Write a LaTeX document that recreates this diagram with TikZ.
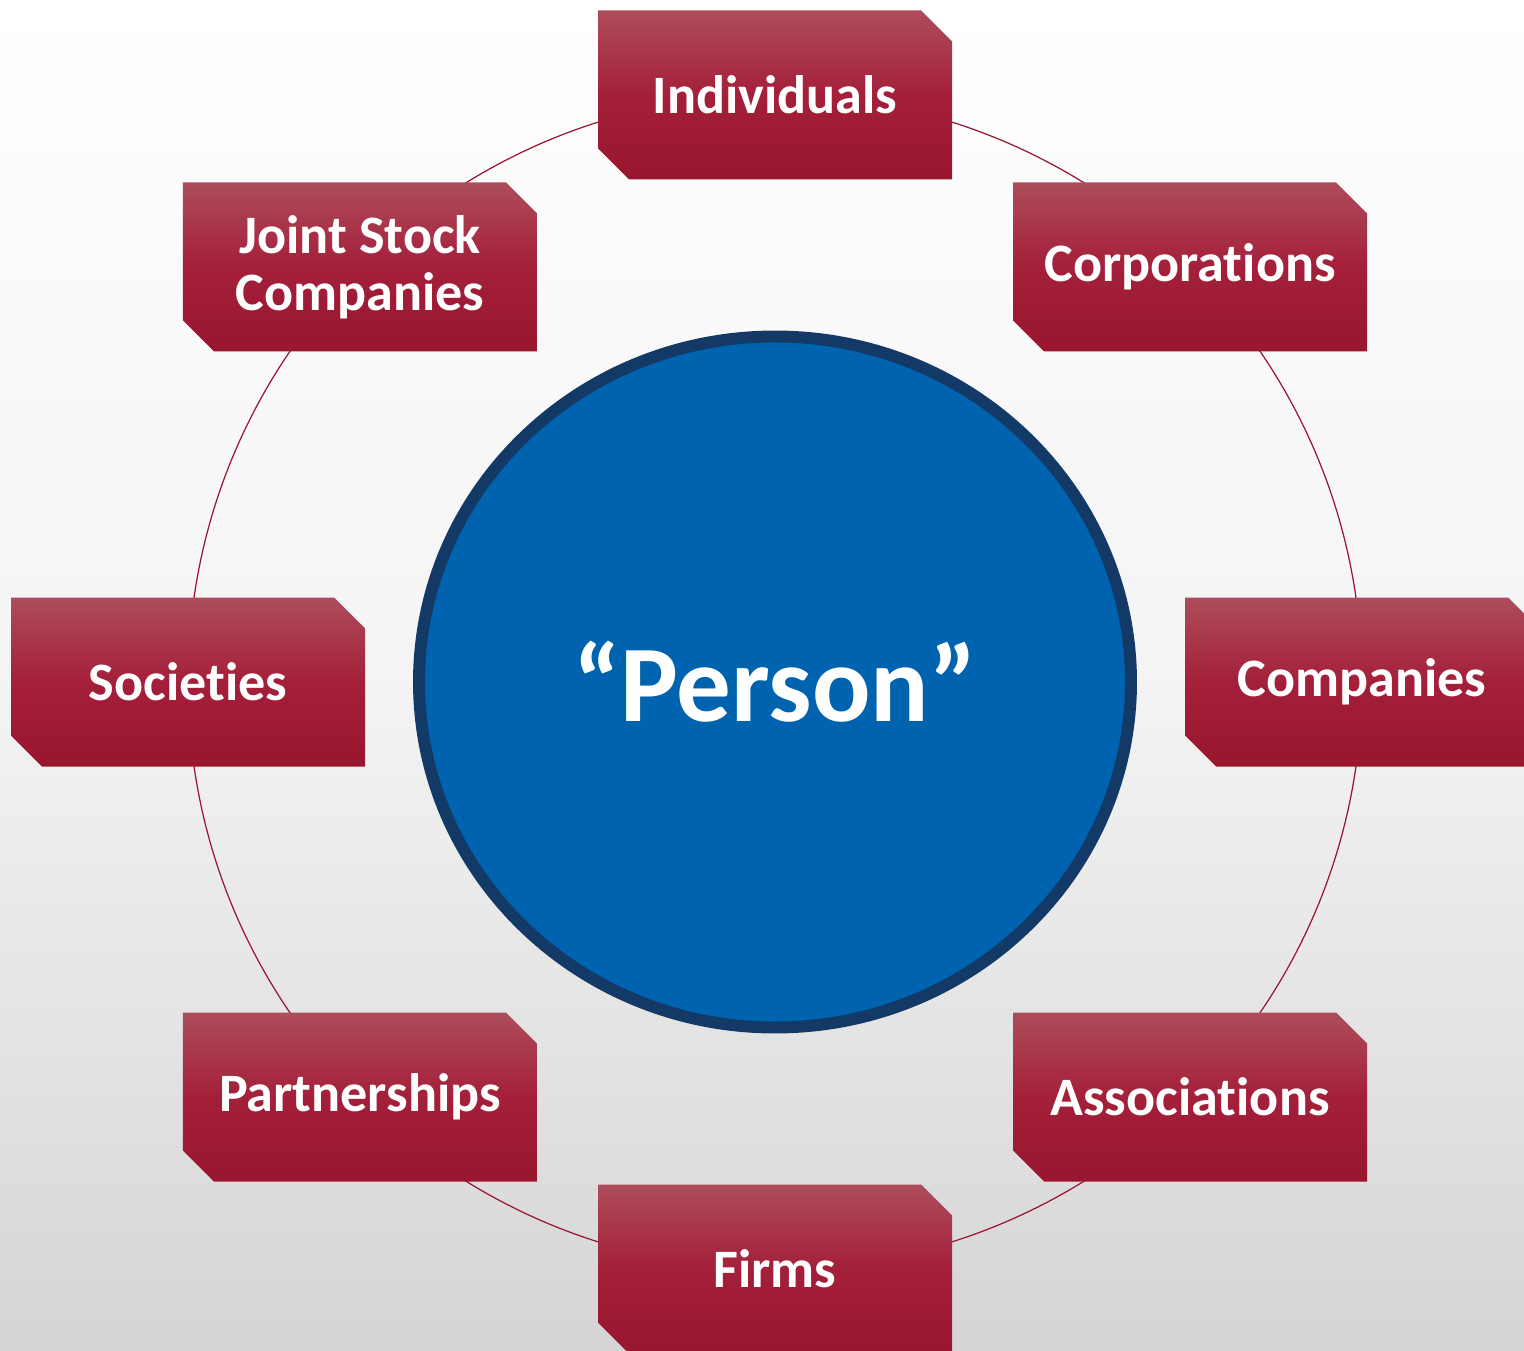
\documentclass[tikz,border=0pt]{standalone}
\usepackage{fontspec}
\setmainfont{Carlito}[Ligatures=NoCommon]
\usetikzlibrary{shapes.misc,shapes.geometric,calc}
\definecolor{Wine}{HTML}{99162F}
\definecolor{WineMid}{HTML}{A41F3A}
\definecolor{WineTop}{HTML}{AD4D5B}
\definecolor{Royal}{HTML}{0063AF}
\definecolor{Navy}{HTML}{133A67}
\definecolor{Haze}{HTML}{F4F4F4}
\definecolor{Fog}{HTML}{D5D5D5}
\tikzset{
  entity/.style={chamfered rectangle,chamfered rectangle corners={north east,south west},
    chamfered rectangle xsep=1.55mm,chamfered rectangle ysep=1.55mm,
    minimum width=35.4mm,minimum height=16.9mm,inner sep=0pt,
    top color=WineTop,bottom color=Wine,middle color=WineMid,
    text=white,align=center,font=\fontsize{15.4}{16.2}\selectfont\bfseries},
  hub/.style={ellipse,minimum width=71.2mm,minimum height=69.1mm,inner sep=0pt,
    fill=Royal,draw=Navy,line width=3.4pt,text=white,
    font=\fontsize{31}{36}\selectfont\bfseries},
  ring/.style={draw=Wine,line width=0.35pt}
}
\begin{document}
\begin{tikzpicture}
  \clip (0,0) rectangle (15.24,13.5);
  \shade[top color=white,bottom color=Fog,middle color=Haze] (0,0) rectangle (15.24,13.5);
  \coordinate (mid) at (7.75,6.68);
  % ring behind the boxes
  \draw[ring] (mid) circle[radius=5.87];
  \node[entity] (indiv) at ($(mid)+(90:5.87)$) {Individuals};
  \node[entity] (corp) at ($(mid)+(45:5.87)$) {Corporations};
  \node[entity] (comp) at ($(mid)+(0:5.87)$) {Companies};
  \node[entity] (assoc) at ($(mid)+(-45:5.87)$) {Associations};
  \node[entity] (firms) at ($(mid)+(-90:5.87)$) {Firms};
  \node[entity] (partner) at ($(mid)+(-135:5.87)$) {Partnerships};
  \node[entity] (soc) at ($(mid)+(180:5.87)$) {Societies};
  \node[entity] (joint) at ($(mid)+(135:5.87)$) {Joint Stock\\Companies};
  \node[hub] (person) at (mid) {“Person”};
\end{tikzpicture}
\end{document}
